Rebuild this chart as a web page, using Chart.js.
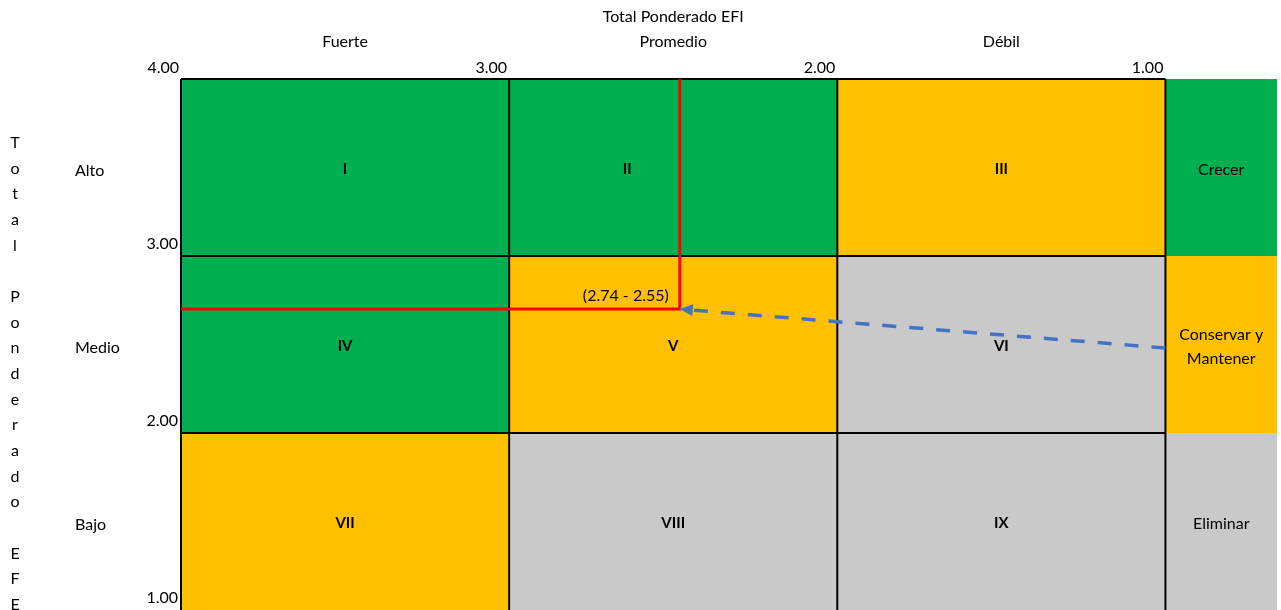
<!DOCTYPE html>
<html>
<head>
<meta charset="utf-8">
<script src="https://cdn.jsdelivr.net/npm/chart.js@4.4.0/dist/chart.umd.min.js"></script>
<style>
  html, body { margin: 0; padding: 0; background: #fff; }
  #wrap { width: 1281px; height: 610px; }
</style>
</head>
<body>
<div id="wrap"><canvas id="myChart"></canvas></div>
<script>
// Ejes
const tituloX = "Total Ponderado EFI";
const tituloY = "Total Ponderado EFE";
const ticksX = [4, 3, 2, 1];
const ticksY = [3, 2, 1];
const categoriasX = ["Fuerte", "Promedio", "Débil"];
const categoriasY = ["Alto", "Medio", "Bajo"];
// Limites de cada categoria (desde, hasta)
const limitesX = [[4, 3], [3, 2], [2, 1]];
const limitesY = [[4, 3], [3, 2], [2, 1]];

// Cuadrantes de la matriz
const cuadrantes = [
  ["I", "II", "III"],
  ["IV", "V", "VI"],
  ["VII", "VIII", "IX"],
];
const zonas = [
  ["crecer", "crecer", "conservar"],
  ["crecer", "conservar", "eliminar"],
  ["conservar", "eliminar", "eliminar"],
];

// Leyenda de estrategias (una por fila)
const estrategias = ["crecer", "conservar", "eliminar"];
const estrategiaTextos = [["Crecer"], ["Conservar y", "Mantener"], ["Eliminar"]];
const colores = { crecer: "#00B050", conservar: "#FFC000", eliminar: "#C9C9C9" };

// Punto de la empresa (posicion) y su etiqueta
const puntoEFI = 2.48;
const puntoEFE = 2.70;
const puntoTexto = "(2.74 - 2.55)";
// Origen de la flecha (borde de la leyenda)
const flechaEFI = 1.0;
const flechaEFE = 2.48;

const FUENTE = "Lato, 'Open Sans', sans-serif";
const TAM = 16;

function centrado(ctx, lineas, cx, cy, alto) {
  const y0 = cy - ((lineas.length - 1) * alto) / 2;
  lineas.forEach((t, i) => ctx.fillText(t, cx, y0 + i * alto));
}

const matrizPlugin = {
  id: "matriz",
  beforeDatasetsDraw(chart) {
    const ctx = chart.ctx;
    const x = chart.scales.x, y = chart.scales.y;
    const area = chart.chartArea;
    ctx.save();
    ctx.textAlign = "center";
    ctx.textBaseline = "middle";
    limitesY.forEach((ly, r) => {
      const y0 = y.getPixelForValue(ly[0]), y1 = y.getPixelForValue(ly[1]);
      limitesX.forEach((lx, c) => {
        const x0 = x.getPixelForValue(lx[0]), x1 = x.getPixelForValue(lx[1]);
        ctx.fillStyle = colores[zonas[r][c]];
        ctx.fillRect(x0, y0, x1 - x0, y1 - y0);
        ctx.fillStyle = "#000";
        ctx.font = "bold 15px " + FUENTE;
        // el "II" va corrido a la izquierda para no quedar bajo la linea roja
        const dx = cuadrantes[r][c] === "II" ? -46 : 0;
        ctx.fillText(cuadrantes[r][c], (x0 + x1) / 2 + dx, (y0 + y1) / 2 + 2);
      });
      // Columna de leyenda
      const lx0 = x.getPixelForValue(1), lx1 = area.right;
      ctx.fillStyle = colores[estrategias[r]];
      ctx.fillRect(lx0, y0, lx1 - lx0, y1 - y0);
      ctx.fillStyle = "#000";
      ctx.font = TAM + "px " + FUENTE;
      centrado(ctx, estrategiaTextos[r], (lx0 + lx1) / 2, (y0 + y1) / 2 + 2, 24);
    });
    // Bordes de la matriz
    ctx.strokeStyle = "#000";
    ctx.lineWidth = 2;
    const xa = x.getPixelForValue(4), xb = x.getPixelForValue(1);
    const ya = y.getPixelForValue(4), yb = y.getPixelForValue(1);
    ticksX.forEach((v) => {
      const px = x.getPixelForValue(v);
      ctx.beginPath(); ctx.moveTo(px, ya); ctx.lineTo(px, yb); ctx.stroke();
    });
    [4, 3, 2].forEach((v) => {
      const py = y.getPixelForValue(v);
      ctx.beginPath(); ctx.moveTo(xa, py); ctx.lineTo(xb, py); ctx.stroke();
    });
    ctx.restore();
  },
  afterDatasetsDraw(chart) {
    const ctx = chart.ctx;
    const x = chart.scales.x, y = chart.scales.y;
    const px = x.getPixelForValue(puntoEFI), py = y.getPixelForValue(puntoEFE);
    const sx = x.getPixelForValue(flechaEFI), sy = y.getPixelForValue(flechaEFE);
    ctx.save();
    // Punta de flecha
    const ang = Math.atan2(py - sy, px - sx);
    const L = 13, W = 6;
    ctx.fillStyle = "#4472C4";
    ctx.beginPath();
    ctx.moveTo(px, py);
    ctx.lineTo(px - L * Math.cos(ang) + W * Math.sin(ang), py - L * Math.sin(ang) - W * Math.cos(ang));
    ctx.lineTo(px - L * Math.cos(ang) - W * Math.sin(ang), py - L * Math.sin(ang) + W * Math.cos(ang));
    ctx.closePath();
    ctx.fill();
    // Etiqueta del punto
    ctx.fillStyle = "#000";
    ctx.font = TAM + "px " + FUENTE;
    ctx.textAlign = "right";
    ctx.textBaseline = "middle";
    ctx.fillText(puntoTexto, px - 11, py - 13);
    ctx.restore();
  },
  afterDraw(chart) {
    const ctx = chart.ctx;
    const x = chart.scales.x, y = chart.scales.y;
    ctx.save();
    ctx.fillStyle = "#000";
    ctx.font = TAM + "px " + FUENTE;
    ctx.textBaseline = "middle";
    ctx.textAlign = "center";
    // Titulo superior
    ctx.fillText(tituloX, x.getPixelForValue(2.5), 17);
    // Categorias X
    limitesX.forEach((lx, i) => {
      ctx.fillText(categoriasX[i], (x.getPixelForValue(lx[0]) + x.getPixelForValue(lx[1])) / 2, 42);
    });
    // Categorias Y
    ctx.textAlign = "left";
    limitesY.forEach((ly, i) => {
      ctx.fillText(categoriasY[i], 75, (y.getPixelForValue(ly[0]) + y.getPixelForValue(ly[1])) / 2 + 3);
    });
    // Titulo vertical letra por letra
    ctx.textAlign = "center";
    tituloY.split("").forEach((ch, i) => {
      if (ch !== " ") ctx.fillText(ch, 15, 143 + i * 25.65);
    });
    ctx.restore();
  },
};

const ctx = document.getElementById("myChart").getContext("2d");
const myChart = new Chart(ctx, {
  type: "scatter",
  data: {
    datasets: [
      {
        // Flecha punteada desde la leyenda al punto
        data: [{ x: flechaEFI, y: flechaEFE }, { x: puntoEFI, y: puntoEFE }],
        showLine: true,
        borderColor: "#4472C4",
        borderWidth: 3.5,
        borderDash: [14, 13],
        pointRadius: 0,
      },
      {
        // Lineas rojas de referencia
        data: [{ x: 4, y: puntoEFE }, { x: puntoEFI, y: puntoEFE }, { x: puntoEFI, y: 4 }],
        showLine: true,
        borderColor: "#FF0000",
        borderWidth: 3,
        pointRadius: 0,
      },
    ],
  },
  options: {
    responsive: true,
    maintainAspectRatio: false,
    animation: false,
    layout: { padding: { left: 0, right: 4, top: 0, bottom: 0 } },
    plugins: { legend: { display: false }, tooltip: { enabled: false } },
    scales: {
      x: {
        type: "linear",
        position: "top",
        reverse: true,
        min: 0.66,
        max: 4,
        grid: { display: false, drawTicks: false },
        border: { display: false },
        afterBuildTicks: (axis) => { axis.ticks = ticksX.map((v) => ({ value: v })); },
        afterFit: (axis) => {
          axis.height = 79;
          axis.paddingLeft = 0;
          axis.paddingRight = 0;
        },
        ticks: {
          align: "end",
          labelOffset: -2,
          padding: 2,
          color: "#000",
          font: { family: FUENTE, size: TAM },
          callback: (v) => Number(v).toFixed(2),
        },
      },
      y: {
        type: "linear",
        min: 1,
        max: 4,
        grid: { display: false, drawTicks: false },
        border: { display: false },
        afterBuildTicks: (axis) => { axis.ticks = ticksY.map((v) => ({ value: v })); },
        afterFit: (axis) => {
          axis.width = 181;
          axis.paddingTop = 0;
          axis.paddingBottom = 0;
        },
        ticks: {
          labelOffset: -12,
          padding: 3,
          color: "#000",
          font: { family: FUENTE, size: TAM },
          callback: (v) => Number(v).toFixed(2),
        },
      },
    },
  },
  plugins: [matrizPlugin],
});
</script>
</body>
</html>
